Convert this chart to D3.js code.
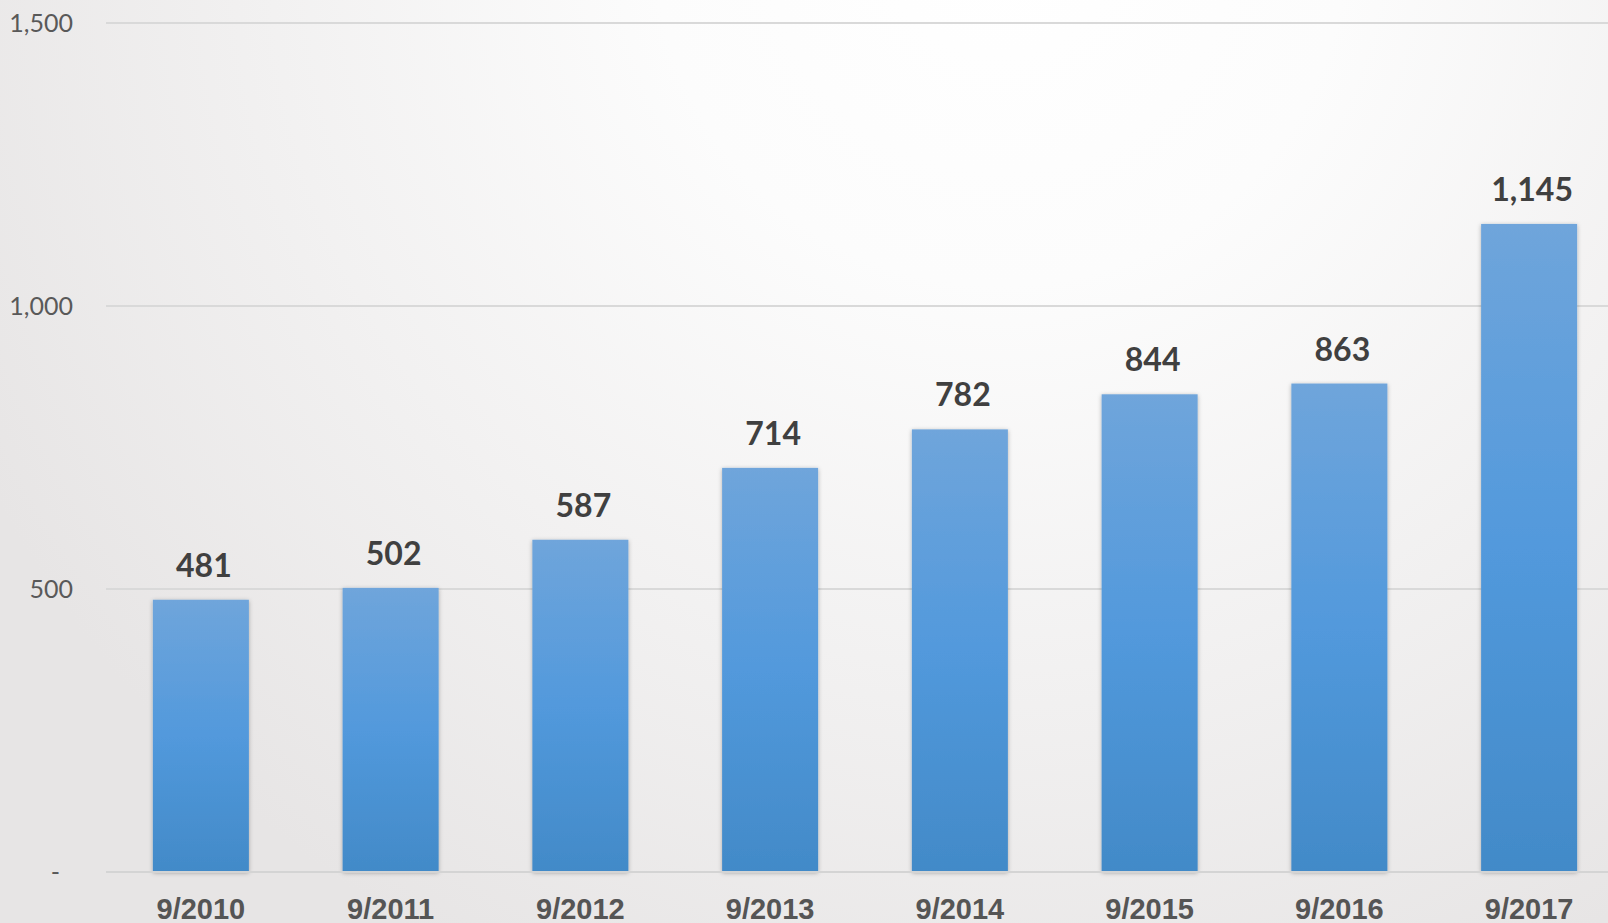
<!DOCTYPE html>
<html>
<head>
<meta charset="utf-8">
<script src="https://cdn.jsdelivr.net/npm/d3@7"></script>
<style>
  html, body { margin: 0; padding: 0; overflow: hidden; }
  svg { display: block; }
</style>
</head>
<body>
<svg></svg>
<script>
const width = 1608;
const height = 923;

// data
const categories = ["9/2010", "9/2011", "9/2012", "9/2013", "9/2014", "9/2015", "9/2016", "9/2017"];
const values = [481, 502, 587, 714, 782, 844, 863, 1145];
const yTicks = [0, 500, 1000, 1500];

const svg = d3.select("svg")
    .attr("width", width)
    .attr("height", height);

const defs = svg.append("defs");

// background gradient, white at the top fading to grey
const bg = defs.append("radialGradient")
    .attr("id", "bg")
    .attr("gradientUnits", "userSpaceOnUse")
    .attr("cx", 1000).attr("cy", -60).attr("r", 1150);
bg.append("stop").attr("offset", "0%").attr("stop-color", "#ffffff");
bg.append("stop").attr("offset", "30%").attr("stop-color", "#fcfcfc");
bg.append("stop").attr("offset", "100%").attr("stop-color", "#e7e5e5");

const barGrad = defs.append("linearGradient")
    .attr("id", "barGrad")
    .attr("x1", 0).attr("y1", 0).attr("x2", 0).attr("y2", 1);
barGrad.append("stop").attr("offset", "0%").attr("stop-color", "#6fa5db");
barGrad.append("stop").attr("offset", "50%").attr("stop-color", "#5299dc");
barGrad.append("stop").attr("offset", "100%").attr("stop-color", "#428ac8");

const shadow = defs.append("filter")
    .attr("id", "shadow")
    .attr("x", "-20%").attr("y", "-10%").attr("width", "140%").attr("height", "120%");
shadow.append("feDropShadow")
    .attr("dx", 0).attr("dy", 1).attr("stdDeviation", 2)
    .attr("flood-color", "#000").attr("flood-opacity", 0.3);

svg.append("rect")
    .attr("width", width)
    .attr("height", height)
    .attr("fill", "url(#bg)");

const margin = { left: 106, top: 23, bottom: 872 };

const x = d3.scaleBand()
    .domain(categories)
    .range([margin.left, 1624])
    .paddingInner(0.494)
    .paddingOuter(0.247);

const y = d3.scaleLinear()
    .domain([0, 1500])
    .range([margin.bottom, margin.top]);

// gridlines
svg.append("g")
    .selectAll("line")
    .data(yTicks.filter(d => d > 0))
    .join("line")
    .attr("x1", margin.left)
    .attr("x2", width)
    .attr("y1", d => y(d))
    .attr("y2", d => y(d))
    .attr("stroke", "#d9d9d9")
    .attr("stroke-width", 2);

// y labels
svg.append("g")
    .selectAll("text")
    .data(yTicks)
    .join("text")
    .attr("x", 73)
    .attr("dx", d => d === 0 ? -13 : 0)
    .attr("y", d => y(d))
    .attr("dy", "0.35em")
    .attr("text-anchor", "end")
    .attr("font-family", "Lato, 'Open Sans', sans-serif")
    .attr("font-size", 25)
    .attr("fill", "#595959")
    .text(d => d === 0 ? "-" : d3.format(",")(d));

// bars
svg.append("g")
    .selectAll("rect")
    .data(values)
    .join("rect")
    .attr("x", (d, i) => x(categories[i]))
    .attr("y", d => y(d))
    .attr("width", x.bandwidth())
    .attr("height", d => y(0) - y(d))
    .attr("fill", "url(#barGrad)")
    .attr("filter", "url(#shadow)");

// baseline
svg.append("line")
    .attr("x1", margin.left)
    .attr("x2", width)
    .attr("y1", y(0))
    .attr("y2", y(0))
    .attr("stroke", "#d4d4d4")
    .attr("stroke-width", 2);

// value labels
svg.append("g")
    .selectAll("text")
    .data(values)
    .join("text")
    .attr("x", (d, i) => x(categories[i]) + x.bandwidth() / 2 + 3)
    .attr("y", d => y(d) - 23)
    .attr("text-anchor", "middle")
    .attr("font-family", "Lato, 'Open Sans', sans-serif")
    .attr("font-weight", "bold")
    .attr("font-size", 32)
    .attr("fill", "#404040")
    .text(d => d3.format(",")(d));

// x labels (cut by the bottom edge, as in the original)
svg.append("g")
    .selectAll("text")
    .data(categories)
    .join("text")
    .attr("x", d => x(d) + x.bandwidth() / 2)
    .attr("y", 919)
    .attr("text-anchor", "middle")
    .attr("font-family", "'Liberation Sans', Arial, sans-serif")
    .attr("font-weight", "bold")
    .attr("font-size", 29)
    .attr("fill", "#555555")
    .text(d => d);
</script>
</body>
</html>
